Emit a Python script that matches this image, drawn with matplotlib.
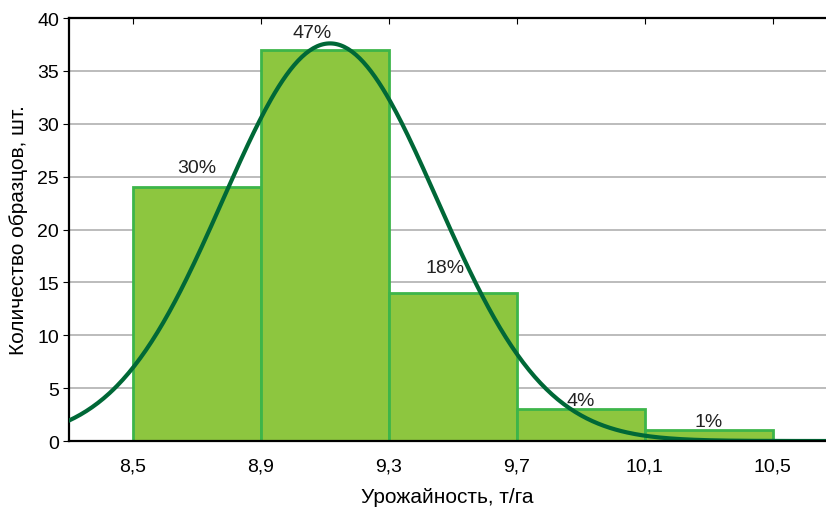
import numpy as np
import matplotlib.pyplot as plt

plt.rcParams['font.family'] = ['Liberation Sans', 'DejaVu Sans']

# интервалы урожайности и число образцов в каждом
bin_edges = [8.5, 8.9, 9.3, 9.7, 10.1, 10.5]
counts = [24, 37, 14, 3, 1]
shares = ['30%', '47%', '18%', '4%', '1%']
tick_labels = ['8,5', '8,9', '9,3', '9,7', '10,1', '10,5']

# параметры нормальной кривой
mu = 9.116
sigma = 0.335
peak = 37.6

fs = 14

# сдвиг подписей (в пунктах), чтобы не налезали на кривую
nudges = [(0, 8), (-9, 6), (-6, 12), (0, 0), (0, 0)]

fig = plt.figure(figsize=(8.26, 5.1), dpi=100)
ax = fig.add_axes([0.0835, 0.1333, 0.9165, 0.8294])

edges = np.array(bin_edges)
widths = np.diff(edges)
ax.bar(edges[:-1], counts, width=widths, align='edge',
       color='#8dc63f', edgecolor='#3db54a', linewidth=2, zorder=2)

for x0, w, c, s, (dx, dy) in zip(edges[:-1], widths, counts, shares, nudges):
    ax.annotate(s, (x0 + w / 2, c), xytext=(dx, dy), textcoords='offset points',
                ha='center', va='bottom', fontsize=fs, color='#222222', zorder=4)

xs = np.linspace(8.3, 10.7, 400)
ys = peak * np.exp(-0.5 * ((xs - mu) / sigma) ** 2)
ax.plot(xs, ys, color='#006837', linewidth=3, zorder=3)

ax.set_xlim(8.3, 10.666)
ax.set_ylim(0, 40)
ax.set_xticks(bin_edges)
ax.set_xticklabels(tick_labels, fontsize=fs)
ax.set_yticks(range(0, 41, 5))
ax.tick_params(axis='y', labelsize=fs, length=4, direction='out', pad=3)
ax.tick_params(axis='x', bottom=False, top=True, direction='in', length=4,
               labelbottom=True, pad=12)
ax.yaxis.grid(True, color='#b0b0b0', linewidth=1.2, zorder=0)
ax.set_axisbelow(True)

for side in ['left', 'bottom', 'top']:
    ax.spines[side].set_color('black')
    ax.spines[side].set_linewidth(1.6)
ax.spines['bottom'].set_zorder(5)
ax.spines['right'].set_visible(False)

ax.set_xlabel('Урожайность, т/га', fontsize=15, labelpad=9)
ax.set_ylabel('Количество образцов, шт.', fontsize=15, labelpad=7)

fig.savefig('out.png', dpi=100)
